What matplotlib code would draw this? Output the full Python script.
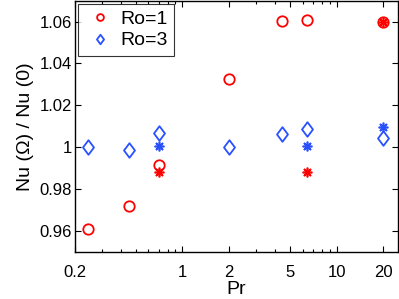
import numpy as np
import matplotlib.pyplot as plt
from matplotlib.path import Path
from matplotlib.ticker import FixedLocator, FixedFormatter, LogLocator, NullFormatter

plt.rcParams['font.family'] = ['Liberation Sans', 'DejaVu Sans']

# Ro=1 (red circles)
pr_ro1 = [0.245, 0.45, 0.7, 2.0, 4.4, 6.4, 20.0]
nu_ro1 = [0.9611, 0.9722, 0.9917, 1.0324, 1.0601, 1.0608, 1.0596]
# Ro=1 asterisks
pr_ro1_star = [0.7, 6.4, 20.0]
nu_ro1_star = [0.988, 0.988, 1.0596]

# Ro=3 (blue diamonds)
pr_ro3 = [0.245, 0.45, 0.7, 2.0, 4.4, 6.4, 20.0]
nu_ro3 = [1.0003, 0.9989, 1.0069, 1.0002, 1.0061, 1.0089, 1.0046]
# Ro=3 asterisks
pr_ro3_star = [0.7, 6.4, 20.0]
nu_ro3_star = [1.0005, 1.0005, 1.0096]

xticks = [0.2, 1, 2, 5, 10, 20]
xticklabels = ['0.2', '1', '2', '5', '10', '20']
yticks = [0.96, 0.98, 1.0, 1.02, 1.04, 1.06]
yticklabels = ['0.96', '0.98', '1', '1.02', '1.04', '1.06']

red = '#ff0000'
blue = '#2850ff'
aster = (8, 2, 0)
# diamond a bit wider than matplotlib's thin diamond (matlab style)
diamond = Path([(0, 1), (0.75, 0), (0, -1), (-0.75, 0), (0, 1)],
               [Path.MOVETO, Path.LINETO, Path.LINETO, Path.LINETO, Path.CLOSEPOLY])

fig = plt.figure(figsize=(3.99, 2.99), dpi=100)
ax = fig.add_axes([0.187, 0.157, 0.811, 0.841])

ax.plot(pr_ro1, nu_ro1, 'o', mfc='none', mec=red, mew=1.3, ms=7.5, ls='none', label='Ro=1')
ax.plot(pr_ro3, nu_ro3, marker=diamond, mfc='none', mec=blue, mew=1.3, ms=10.5, ls='none', label='Ro=3')
ax.plot(pr_ro1_star, nu_ro1_star, marker=aster, color=red, mew=1.2, ms=7, ls='none')
ax.plot(pr_ro3_star, nu_ro3_star, marker=aster, color=blue, mew=1.2, ms=7, ls='none')

ax.set_xscale('log')
ax.set_xlim(0.2, 25)
ax.set_ylim(0.95, 1.07)
ax.xaxis.set_major_locator(FixedLocator(xticks))
ax.xaxis.set_major_formatter(FixedFormatter(xticklabels))
ax.xaxis.set_minor_locator(LogLocator(base=10, subs=np.arange(2, 10)))
ax.xaxis.set_minor_formatter(NullFormatter())
ax.yaxis.set_major_locator(FixedLocator(yticks))
ax.yaxis.set_major_formatter(FixedFormatter(yticklabels))

ax.tick_params(which='both', direction='in', top=True, right=True, labelsize=12, width=0.8)
ax.tick_params(which='major', length=4)
ax.tick_params(which='minor', length=2)
ax.tick_params(axis='x', which='major', pad=9)
ax.tick_params(axis='y', which='major', pad=2)
for s in ax.spines.values():
    s.set_linewidth(1.0)

ax.set_xlabel('Pr', fontsize=14, labelpad=1)
ax.set_ylabel('Nu (\u03a9) / Nu (0)', fontsize=14, labelpad=4)

leg = ax.legend(loc='upper left', fontsize=14, frameon=True, fancybox=False,
                edgecolor='black', borderaxespad=0.15, handletextpad=0.25,
                handlelength=1.6, borderpad=0.35, labelspacing=0.2, markerscale=0.65)
leg.get_frame().set_linewidth(0.8)

plt.savefig('out.png', dpi=100)
plt.close()
